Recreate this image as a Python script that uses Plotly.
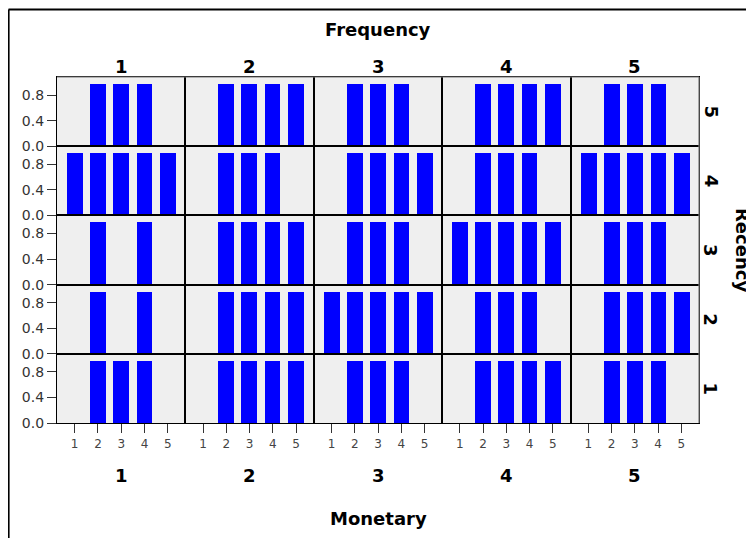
import plotly.graph_objects as go
from plotly.subplots import make_subplots

# ---- data ----
recency_levels = ["5", "4", "3", "2", "1"]          # rows, top to bottom
frequency_levels = ["1", "2", "3", "4", "5"]        # columns
monetary_levels = [1, 2, 3, 4, 5]                   # x within each panel
y_tick_vals = [0.0, 0.4, 0.8]
y_tick_text = ["0.0", "0.4", "0.8"]

# bar heights for Monetary 1..5, one list per Frequency column
recency_5 = [[0, .97, .97, .97, 0], [0, .97, .97, .97, .97], [0, .97, .97, .97, 0],
             [0, .97, .97, .97, .97], [0, .97, .97, .97, 0]]
recency_4 = [[.97, .97, .97, .97, .97], [0, .97, .97, .97, 0], [0, .97, .97, .97, .97],
             [0, .97, .97, .97, 0], [.97, .97, .97, .97, .97]]
recency_3 = [[0, .97, 0, .97, 0], [0, .97, .97, .97, .97], [0, .97, .97, .97, 0],
             [.97, .97, .97, .97, .97], [0, .97, .97, .97, 0]]
recency_2 = [[0, .97, 0, .97, 0], [0, .97, .97, .97, .97], [.97, .97, .97, .97, .97],
             [0, .97, .97, .97, 0], [0, .97, .97, .97, .97]]
recency_1 = [[0, .97, .97, .97, 0], [0, .97, .97, .97, .97], [0, .97, .97, .97, 0],
             [0, .97, .97, .97, .97], [0, .97, .97, .97, 0]]
panel_values = [recency_5, recency_4, recency_3, recency_2, recency_1]

# ---- layout geometry (pixels; the page body adds an 8px offset) ----
OFF = 8
W, H = 754 - OFF, 538 - OFF
L, R, T, B = 57 - OFF, 699 - OFF, 77 - OFF, 423 - OFF
def px(x):  # x in window pixels -> paper
    return (x - OFF - L) / (R - L)
def py(y):  # y in window pixels -> paper
    return (B - (y - OFF)) / (B - T)

FONT = "DejaVu Sans"
fig = make_subplots(rows=5, cols=5, horizontal_spacing=0, vertical_spacing=0)

for ri, rows in enumerate(panel_values):
    for ci, vals in enumerate(rows):
        xs = [m for m, v in zip(monetary_levels, vals) if v > 0]
        ys = [v for v in vals if v > 0]
        fig.add_trace(go.Bar(x=xs, y=ys, width=0.68, marker=dict(color="#0000FF", line=dict(width=0)),
                             showlegend=False, hoverinfo="skip"), row=ri + 1, col=ci + 1)

for ri in range(5):
    for ci in range(5):
        fig.update_xaxes(range=[0.24, 5.76], showline=True, mirror=True, linecolor="black", linewidth=1.2,
                         showgrid=False, zeroline=False,
                         tickvals=monetary_levels if ri == 4 else [],
                         ticks="outside" if ri == 4 else "", ticklen=9, tickwidth=1, tickcolor="#333",
                         tickfont=dict(family=FONT, size=12, color="#444"),
                         showticklabels=(ri == 4), row=ri + 1, col=ci + 1)
        fig.update_yaxes(range=[0, 1.085], showline=True, mirror=True, linecolor="black", linewidth=1.2,
                         showgrid=False, zeroline=False,
                         tickvals=y_tick_vals if ci == 0 else [], ticktext=y_tick_text if ci == 0 else [],
                         ticks="outside" if ci == 0 else "", ticklen=9, tickwidth=1, tickcolor="#333",
                         tickfont=dict(family=FONT, size=14, color="#333"),
                         showticklabels=(ci == 0), row=ri + 1, col=ci + 1)

ann = []
bold = dict(family=FONT, size=18, color="black")
ann.append(dict(text="<b>Frequency</b>", x=0.5, y=py(29), xref="paper", yref="paper", showarrow=False,
                font=bold, xanchor="center", yanchor="middle"))
ann.append(dict(text="<b>Monetary</b>", x=0.5, y=py(519), xref="paper", yref="paper", showarrow=False,
                font=bold, xanchor="center", yanchor="middle"))
ann.append(dict(text="<b>Recency</b>", x=px(743), y=0.5, xref="paper", yref="paper", showarrow=False,
                font=bold, textangle=90, xanchor="center", yanchor="middle"))
for ci, lab in enumerate(frequency_levels):
    xc = ci / 5 + 0.1
    ann.append(dict(text="<b>%s</b>" % lab, x=xc, y=py(67), xref="paper", yref="paper", showarrow=False,
                    font=bold, xanchor="center", yanchor="middle"))
    ann.append(dict(text="<b>%s</b>" % lab, x=xc, y=py(475), xref="paper", yref="paper", showarrow=False,
                    font=bold, xanchor="center", yanchor="middle"))
for ri, lab in enumerate(recency_levels):
    yc = 1 - (ri / 5 + 0.1)
    ann.append(dict(text="<b>%s</b>" % lab, x=px(711), y=yc, xref="paper", yref="paper", showarrow=False,
                    font=bold, textangle=90, xanchor="center", yanchor="middle"))

shapes = [
    dict(type="line", xref="paper", yref="paper", x0=px(8.5), x1=px(770), y0=py(9.5), y1=py(9.5),
         line=dict(color="black", width=2.2)),
    dict(type="line", xref="paper", yref="paper", x0=px(8.5), x1=px(8.5), y0=py(9.5), y1=py(560),
         line=dict(color="black", width=2.2)),
    dict(type="line", xref="paper", yref="paper", x0=0, x1=1, y0=1, y1=1, line=dict(color="#777", width=1.2)),
    dict(type="line", xref="paper", yref="paper", x0=1, x1=1, y0=0, y1=1, line=dict(color="#777", width=1.2)),
]

fig.update_layout(width=W, height=H, margin=dict(l=L, r=W - R, t=T, b=H - B),
                  plot_bgcolor="#EFEFEF", paper_bgcolor="white", bargap=0,
                  annotations=ann, shapes=shapes, font=dict(family=FONT))
fig.write_html("out.html")
